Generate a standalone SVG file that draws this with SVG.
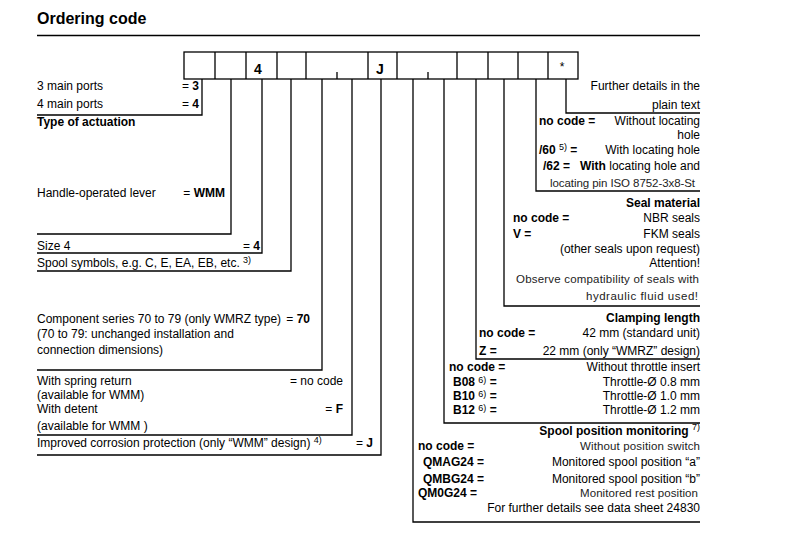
<svg xmlns="http://www.w3.org/2000/svg" width="793" height="545" viewBox="0 0 793 545">
<style>
.t{font-family:"Liberation Sans",Arial,sans-serif;font-size:12px;fill:#000}
.b{font-weight:bold}
.n{font-weight:normal}
.e{text-anchor:end}
.c{font-size:11.5px;fill:#222}
.s{font-size:9px;font-weight:normal}
.ln{fill:none;stroke:#000;stroke-width:1.3}
</style>
<rect width="793" height="545" fill="#fff"/>
<g id="header">
<text class="t b" x="37" y="24" style="font-size:16px">Ordering code</text>
<line class="ln" x1="37" y1="35.5" x2="700" y2="35.5"/>
</g>
<g id="code-boxes">
<rect class="ln" x="184" y="52" width="394" height="27"/>
<path class="ln" d="M215 52V79M246 52V79M277 52V79M306 52V79M368 52V79M397 52V79M457 52V79M488 52V79M518 52V79M548 52V79M337 72V79M428 72V79"/>
<text class="t b" x="258" y="74" text-anchor="middle" style="font-size:14px">4</text>
<text class="t b" x="380" y="74" text-anchor="middle" style="font-size:14px">J</text>
<text class="t" x="562" y="71" text-anchor="middle">*</text>
</g>
<g id="connectors">
<path class="ln" d="M202 79V115H37"/>
<path class="ln" d="M231 79V234H37"/>
<path class="ln" d="M262 79V253H37"/>
<path class="ln" d="M291 79V271H37"/>
<path class="ln" d="M322 79V370H37"/>
<path class="ln" d="M352 79V435H37"/>
<path class="ln" d="M381 79V455H37"/>
<path class="ln" d="M413 79V522H700"/>
<path class="ln" d="M444 79V423H700"/>
<path class="ln" d="M476 79V359H700"/>
<path class="ln" d="M504 79V306H700"/>
<path class="ln" d="M536 79V191H700"/>
<path class="ln" d="M566 79V113H700"/>
</g>
<g id="ports">
<text class="t" x="37" y="90">3 main ports</text>
<text class="t e" x="199" y="90">= <tspan class="b">3</tspan></text>
<text class="t" x="37" y="108">4 main ports</text>
<text class="t e" x="199" y="108">= <tspan class="b">4</tspan></text>
</g>
<g id="actuation">
<text class="t b" x="37" y="126">Type of actuation</text>
<text class="t" x="37" y="197">Handle-operated lever</text>
<text class="t e" x="225" y="197">= <tspan class="b">WMM</tspan></text>
</g>
<g id="size">
<text class="t" x="37" y="250">Size 4</text>
<text class="t e" x="260" y="250">= <tspan class="b">4</tspan></text>
</g>
<g id="spool-symbol">
<text class="t" x="37" y="267">Spool symbols, e.g. C, E, EA, EB, etc. <tspan class="s" dy="-4">3)</tspan></text>
</g>
<g id="component-series">
<text class="t" x="37" y="323">Component series 70 to 79 (only WMRZ type)</text>
<text class="t e" x="310" y="323">= <tspan class="b">70</tspan></text>
<text class="t" x="37" y="338">(70 to 79: unchanged installation and</text>
<text class="t" x="37" y="354">connection dimensions)</text>
</g>
<g id="detent">
<text class="t" x="37" y="385">With spring return</text>
<text class="t e" x="343" y="385">= no code</text>
<text class="t" x="37" y="399">(available for WMM)</text>
<text class="t" x="37" y="413">With detent</text>
<text class="t e" x="343" y="413">= <tspan class="b">F</tspan></text>
<text class="t" x="37" y="430">(available for WMM )</text>
</g>
<g id="corrosion">
<text class="t" x="37" y="447">Improved corrosion protection (only “WMM” design) <tspan class="s" dy="-4">4)</tspan></text>
<text class="t e" x="373" y="447">= <tspan class="b">J</tspan></text>
</g>
<g id="further-details">
<text class="t e" x="700" y="90">Further details in the</text>
<text class="t e" x="700" y="109">plain text</text>
</g>
<g id="locating-hole">
<text class="t b" x="539" y="125">no code =</text>
<text class="t e" x="700" y="125">Without locating</text>
<text class="t e" x="700" y="139">hole</text>
<text class="t b" x="539" y="154">/60 <tspan class="s" dy="-4">5)</tspan><tspan dy="4"> =</tspan></text>
<text class="t e" x="700" y="154">With locating hole</text>
<text class="t b" x="543" y="170">/62 =</text>
<text class="t e" x="700" y="170"><tspan class="b">With</tspan> locating hole and</text>
<text class="t c" x="550" y="187" textLength="145" lengthAdjust="spacing">locating pin ISO 8752-3x8-St</text>
</g>
<g id="seal-material">
<text class="t b e" x="700" y="207">Seal material</text>
<text class="t b" x="513" y="222">no code =</text>
<text class="t e" x="700" y="222">NBR seals</text>
<text class="t b" x="513" y="238">V =</text>
<text class="t e" x="700" y="238">FKM seals</text>
<text class="t e" x="700" y="253">(other seals upon request)</text>
<text class="t e" x="700" y="267">Attention!</text>
<text class="t c" x="516" y="283" textLength="183" lengthAdjust="spacing">Observe compatibility of seals with</text>
<text class="t c" x="586" y="300" textLength="112" lengthAdjust="spacing">hydraulic fluid used!</text>
</g>
<g id="clamping-length">
<text class="t b e" x="700" y="322">Clamping length</text>
<text class="t b" x="479" y="337">no code =</text>
<text class="t e" x="700" y="337">42 mm (standard unit)</text>
<text class="t b" x="479" y="355">Z =</text>
<text class="t e" x="700" y="355">22 mm (only “WMRZ” design)</text>
</g>
<g id="throttle">
<text class="t b" x="449" y="371">no code =</text>
<text class="t e" x="700" y="371">Without throttle insert</text>
<text class="t b" x="453" y="386">B08 <tspan class="s" dy="-3">6)</tspan><tspan dy="3"> =</tspan></text>
<text class="t e" x="700" y="386">Throttle-Ø 0.8 mm</text>
<text class="t b" x="453" y="400">B10 <tspan class="s" dy="-3">6)</tspan><tspan dy="3"> =</tspan></text>
<text class="t e" x="700" y="400">Throttle-Ø 1.0 mm</text>
<text class="t b" x="453" y="414">B12 <tspan class="s" dy="-3">6)</tspan><tspan dy="3"> =</tspan></text>
<text class="t e" x="700" y="414">Throttle-Ø 1.2 mm</text>
</g>
<g id="position-monitoring">
<text class="t b e" x="700" y="435">Spool position monitoring <tspan class="s" dy="-5">7)</tspan></text>
<text class="t b" x="418" y="450">no code =</text>
<text class="t c" x="580" y="450" textLength="120" lengthAdjust="spacing">Without position switch</text>
<text class="t b" x="423" y="466">QMAG24 =</text>
<text class="t e" x="700" y="466">Monitored spool position “a”</text>
<text class="t b" x="423" y="483">QMBG24 =</text>
<text class="t e" x="700" y="483">Monitored spool position “b”</text>
<text class="t b" x="418" y="497">QM0G24 =</text>
<text class="t c" x="580" y="497" textLength="118" lengthAdjust="spacing">Monitored rest position</text>
<text class="t e" x="700" y="512">For further details see data sheet 24830</text>
</g>
</svg>
